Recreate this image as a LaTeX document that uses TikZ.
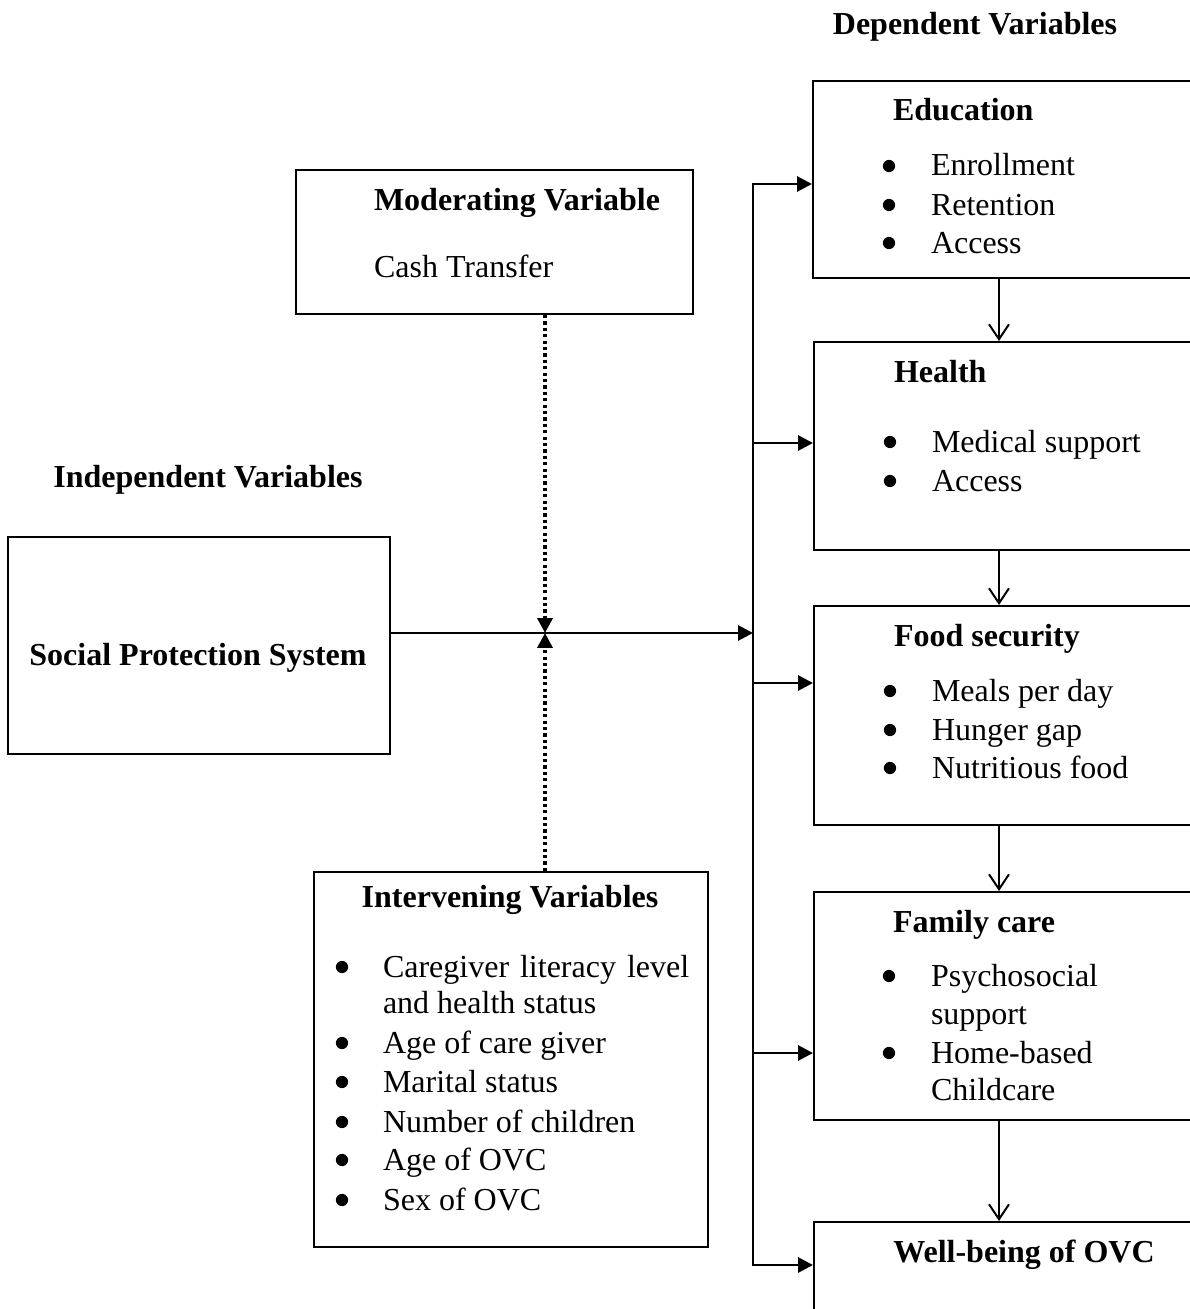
\documentclass[tikz,border=0pt]{standalone}
\usepackage{fontspec}
\setmainfont{Liberation Serif}
\usetikzlibrary{arrows.meta,fit}

\tikzset{every picture/.style={line width=0.75pt}}
\tikzset{
  varbox/.style={draw, inner sep=0pt, line width=0.75pt},
  flowarr/.style={line width=1.1pt, -{Triangle[length=5.6pt,width=5.6pt]}},
  downarr/.style={line width=0.75pt, -{Straight Barb[length=5.6pt,width=7.5pt]}},
  modarr/.style={line width=1.3pt, dash pattern=on 1.2pt off 1.2pt, -{Triangle[length=5.6pt,width=5.6pt]}},
  txt/.style={anchor=base west, inner sep=0pt, font=\fontsize{12}{14}\selectfont},
  ctxt/.style={anchor=base, inner sep=0pt, font=\fontsize{12}{14}\selectfont\bfseries},
}

\begin{document}
\begin{tikzpicture}[x=0.375pt,y=0.375pt,yscale=-1,xscale=1]
\clip (0,0) rectangle (1190,1309);

%Shape: Rectangle [dependent boxes]
\node [varbox, fit={(813,81) (1200,278)}] (edu) {};
\node [varbox, fit={(814,342) (1200,550)}] (health) {};
\node [varbox, fit={(814,606) (1200,825)}] (food) {};
\node [varbox, fit={(814,892) (1200,1120)}] (family) {};
\node [varbox, fit={(814,1222) (1200,1330)}] (wellbeing) {};
%Shape: Rectangle [other boxes]
\node [varbox, fit={(8,537) (390,754)}] (sps) {};
\node [varbox, fit={(296,170) (693,314)}] (moder) {};
\node [varbox, fit={(314,872) (708,1247)}] (interv) {};

%Coordinates for the bus and the crossing
\coordinate (cross) at (545,633);
\coordinate (busin) at (753,633);
\coordinate (b1) at (753,184);
\coordinate (b2) at (753,443);
\coordinate (b3) at (753,683);
\coordinate (b4) at (753,1053);
\coordinate (b5) at (753,1265);
\coordinate (dx) at (999,0);

%Straight Lines [main flow]
\draw [flowarr] (sps.east |- busin) -- (busin) ;
\draw [line width=1.1pt, {Triangle[length=5.6pt,width=5.6pt]}-{Triangle[length=5.6pt,width=5.6pt]}] (b1 -| edu.west) -- (b1) -- (b5) -- (b5 -| wellbeing.west) ;
\draw [flowarr] (b2) -- (b2 -| health.west) ;
\draw [flowarr] (b3) -- (b3 -| food.west) ;
\draw [flowarr] (b4) -- (b4 -| family.west) ;
%Straight Lines [moderating and intervening]
\draw [modarr] (moder.south -| cross) -- (cross) ;
\draw [modarr] (interv.north -| cross) -- (cross) ;
%Straight Lines [between dependent boxes]
\draw [downarr] (edu.south -| dx) -- (health.north -| dx) ;
\draw [downarr] (health.south -| dx) -- (food.north -| dx) ;
\draw [downarr] (food.south -| dx) -- (family.north -| dx) ;
\draw [downarr] (family.south -| dx) -- (wellbeing.north -| dx) ;

% Text Node
\node [ctxt] (deplbl) at (975,35) {Dependent Variables};
% Text Node
\node [ctxt] (indlbl) at (208,487) {Independent Variables};
% Text Node
\node [ctxt] (spslbl) at (198,665) {Social Protection System};
% Text Node
\node [txt, font=\fontsize{12}{14}\selectfont\bfseries] (modlbl) at (373,210) {Moderating Variable};
% Text Node
\node [txt] (cashlbl) at (373,277) {Cash Transfer};
% Text Node
\node [ctxt] (intlbl) at (510,907) {Intervening Variables};
% Text Node
\node [txt] (int1) at (382,977) {Caregiver\hspace{4.1pt}literacy\hspace{4.1pt}level};
\node [txt] (int1b) at (382,1013) {and health status};
\node [txt] (int2) at (382,1053) {Age of care giver};
\node [txt] (int3) at (382,1092) {Marital status};
\node [txt] (int4) at (382,1132) {Number of children};
\node [txt] (int5) at (382,1170) {Age of OVC};
\node [txt] (int6) at (382,1210) {Sex of OVC};
\foreach \y in {977,1053,1092,1132,1170,1210}
  \fill (342,\y-10) circle [radius=2.3pt];

% Text Node
\node [txt, font=\fontsize{12}{14}\selectfont\bfseries] (edulbl) at (892,121) {Education};
\node [txt] (edu1) at (930,176) {Enrollment};
\node [txt] (edu2) at (930,215) {Retention};
\node [txt] (edu3) at (930,253) {Access};
\foreach \y in {176,215,253}
  \fill (889,\y-10) circle [radius=2.3pt];

% Text Node
\node [txt, font=\fontsize{12}{14}\selectfont\bfseries] (heallbl) at (893,382) {Health};
\node [txt] (heal1) at (931,452) {Medical support};
\node [txt] (heal2) at (931,491) {Access};
\foreach \y in {452,491}
  \fill (890,\y-10) circle [radius=2.3pt];

% Text Node
\node [txt, font=\fontsize{12}{14}\selectfont\bfseries] (foodlbl) at (893,646) {Food security};
\node [txt] (food1) at (931,701) {Meals per day};
\node [txt] (food2) at (931,740) {Hunger gap};
\node [txt] (food3) at (931,778) {Nutritious food};
\foreach \y in {701,740,778}
  \fill (890,\y-10) circle [radius=2.3pt];

% Text Node
\node [txt, font=\fontsize{12}{14}\selectfont\bfseries] (famlbl) at (892,932) {Family care};
\node [txt] (fam1) at (930,986) {Psychosocial};
\node [txt] (fam1b) at (930,1024) {support};
\node [txt] (fam2) at (930,1063) {Home-based};
\node [txt] (fam2b) at (930,1100) {Childcare};
\foreach \y in {986,1063}
  \fill (889,\y-10) circle [radius=2.3pt];

% Text Node
\node [ctxt] (welllbl) at (1024,1262) {Well-being of OVC};

\end{tikzpicture}
\end{document}
